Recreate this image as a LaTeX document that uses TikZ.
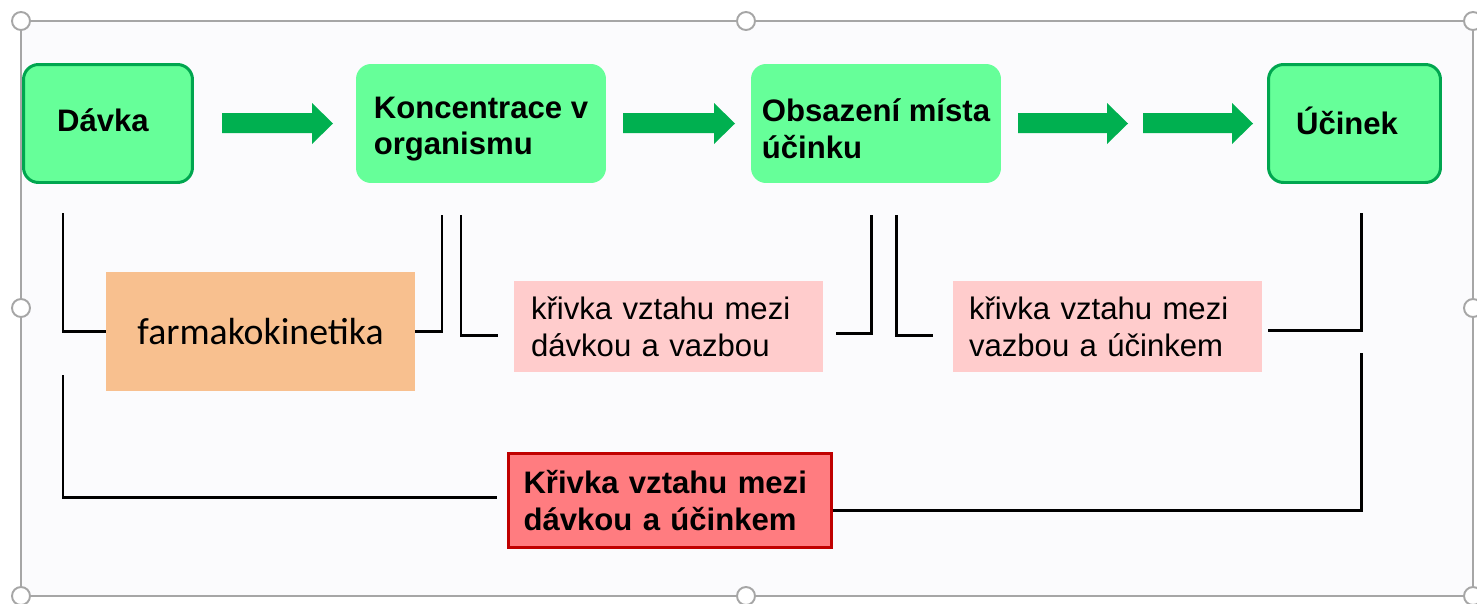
\documentclass[tikz,border=0pt]{standalone}
\usepackage{fontspec}
\setmainfont{Liberation Sans}
\newfontfamily\calib{Carlito}
\definecolor{gfill}{HTML}{66FF99}
\definecolor{gline}{HTML}{00A64F}
\definecolor{garr}{HTML}{00B050}
\definecolor{peach}{HTML}{F8C08F}
\definecolor{pinkbox}{HTML}{FFCCCC}
\definecolor{redfill}{HTML}{FF7C80}
\definecolor{redline}{HTML}{C00000}
\definecolor{bgc}{HTML}{FBFBFD}
\definecolor{framec}{HTML}{A6A6A6}
\tikzset{
  txt/.style={font=\fontsize{17.7}{21}\selectfont},
  btxt/.style={font=\bfseries\fontsize{17.7}{21}\selectfont},
  gbox/.style={rounded corners=0.3cm, fill=gfill, inner sep=0pt, align=left, btxt},
  gboxb/.style={gbox, draw=gline, line width=1.7pt},
  pbox/.style={fill=pinkbox, minimum width=6.18cm, minimum height=1.82cm, inner ysep=0pt, inner xsep=0.34cm, text width=5.5cm, align=left, txt},
  bracket/.style={line width=1.7pt, black},
  garrow/.style={fill=garr},
  handle/.style={draw=framec, fill=white, line width=1.1pt},
}
\newcommand\gblock[2]{\fill[garrow] (#1,113) -- ({#2-21},113) -- ({#2-21},103) -- (#2,123.5) -- ({#2-21},144) -- ({#2-21},133) -- (#1,133) -- cycle;}
\begin{document}
\begin{tikzpicture}[x=0.02cm, y=-0.02cm]
\useasboundingbox (0,0) rectangle (1477,603);
\fill[bgc] (21,21) rectangle (1473,596);
\draw[framec, line width=1.1pt] (21,21) rectangle (1473,596);

% top row
\node[gboxb, minimum width=3.38cm, minimum height=2.36cm] (davka) at (108,123.5) {Dávka\rule[-3.4pt]{0pt}{3.4pt}\kern5.7pt};
\node[gbox, minimum width=5cm, minimum height=2.38cm] (konc) at (481,123.5) {\rule{0pt}{18.5pt}Koncentrace v\\organismu};
\node[gbox, minimum width=5cm, minimum height=2.38cm] (obs) at (876,123.5) {\rule{0pt}{18.5pt}Obsazení místa\\účinku};
\node[gboxb, minimum width=3.44cm, minimum height=2.36cm] (ucinek) at (1354.5,123.5) {Účinek\rule[-3.4pt]{0pt}{3.4pt}\kern8.5pt};

% block arrows
\gblock{222}{333}
\gblock{623}{735}
\gblock{1018}{1128}
\gblock{1143}{1253}

% middle row
\node[fill=peach, minimum width=6.18cm, minimum height=2.38cm, inner sep=0pt, font=\calib\fontsize{21.5}{25}\selectfont] (fk) at (260.5,331.5) {farmakokinetika};
\node[pbox] (dv) at (668.5,326.5) {křivka vztahu mezi\\dávkou a vazbou};
\node[pbox, inner xsep=0.32cm, text width=5.54cm] (vu) at (1107.5,326.5) {křivka vztahu mezi\\vazbou a účinkem};

% bottom
\node[fill=redfill, draw=redline, line width=1.7pt, minimum width=6.46cm, minimum height=1.88cm, inner xsep=0.3cm, inner ysep=0pt, text width=5.86cm, align=left, btxt] (du) at (670,500.5) {Křivka vztahu mezi\\dávkou a účinkem};

% bracket coordinates
\coordinate (a1) at (63,213);
\coordinate (a2) at (442,215);
\coordinate (b1) at (461,215);
\coordinate (b2) at (498,335);
\coordinate (c1) at (836,333);
\coordinate (c2) at (871,215);
\coordinate (d1) at (896,215);
\coordinate (d2) at (933,335);
\coordinate (e1) at (1268,330);
\coordinate (e2) at (1361,213);
\coordinate (f1) at (63,375);
\coordinate (f2) at (497,497);
\coordinate (g2) at (1361,353);

\draw[bracket] (a1) |- (fk.west);
\draw[bracket] (fk.east) -| (a2);
\draw[bracket] (b1) |- (b2);
\draw[bracket] (c1) -| (c2);
\draw[bracket] (d1) |- (d2);
\draw[bracket] (e1) -| (e2);
\draw[bracket] (f1) |- (f2);
\draw[bracket] ([yshift=-0.19cm]du.east) -| (g2);

% selection handles
\foreach \p in {(21,21),(746,21),(1473,21),(21,308),(1473,308),(21,596),(746,596),(1473,596)}
  \draw[handle] \p circle[radius=0.18cm];
\end{tikzpicture}
\end{document}
